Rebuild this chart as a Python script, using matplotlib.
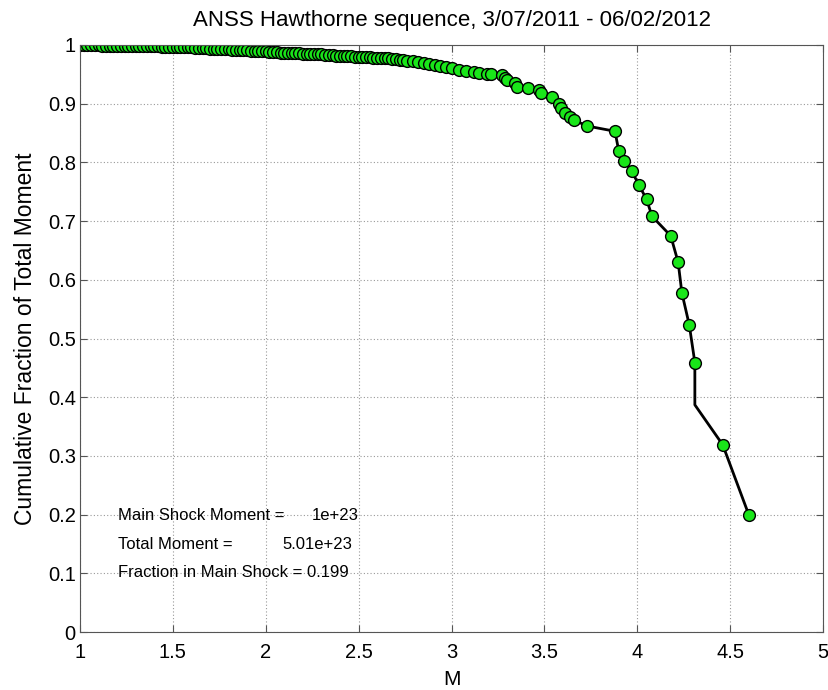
import matplotlib
matplotlib.use("Agg")
import matplotlib.pyplot as plt
import numpy as np

plt.rcParams['font.family'] = ['Liberation Sans', 'DejaVu Sans']

# magnitude and cumulative fraction of total moment
mag = [1.00, 1.02, 1.04, 1.06, 1.08, 1.10, 1.12, 1.14, 1.16, 1.18,
       1.20, 1.22, 1.24, 1.26, 1.28, 1.30, 1.32, 1.34, 1.36, 1.38,
       1.40, 1.42, 1.44, 1.46, 1.48, 1.50, 1.52, 1.54, 1.56, 1.58,
       1.60, 1.62, 1.64, 1.66, 1.68, 1.70, 1.72, 1.74, 1.76, 1.78,
       1.80, 1.82, 1.84, 1.86, 1.88, 1.90, 1.92, 1.94, 1.96, 1.98,
       2.00, 2.02, 2.04, 2.06, 2.08, 2.10, 2.12, 2.14, 2.16, 2.18,
       2.20, 2.22, 2.24, 2.26, 2.28, 2.30, 2.32, 2.34, 2.36, 2.38,
       2.40, 2.42, 2.44, 2.46, 2.48, 2.50, 2.52, 2.54, 2.56, 2.58,
       2.60, 2.62, 2.64, 2.66, 2.68, 2.70, 2.72, 2.74, 2.76, 2.79,
       2.82, 2.85, 2.88, 2.91, 2.94, 2.97, 3.00, 3.04, 3.08, 3.12,
       3.15, 3.19, 3.21, 3.27, 3.29, 3.30, 3.34, 3.35, 3.41, 3.47,
       3.48, 3.54, 3.58, 3.59, 3.61, 3.64, 3.66, 3.73, 3.88, 3.90,
       3.93, 3.97, 4.01, 4.05, 4.08, 4.18, 4.22, 4.24, 4.28, 4.31,
       4.31, 4.46, 4.60]
frac = [1.000, 1.000, 1.000, 1.000, 1.000, 1.000, 0.999, 0.999, 0.999, 0.999,
        0.999, 0.999, 0.999, 0.999, 0.999, 0.999, 0.998, 0.998, 0.998, 0.998,
        0.998, 0.998, 0.997, 0.997, 0.997, 0.997, 0.997, 0.996, 0.996, 0.996,
        0.996, 0.995, 0.995, 0.995, 0.995, 0.994, 0.994, 0.994, 0.993, 0.993,
        0.993, 0.992, 0.992, 0.991, 0.991, 0.991, 0.990, 0.990, 0.989, 0.989,
        0.989, 0.988, 0.988, 0.988, 0.987, 0.987, 0.987, 0.986, 0.986, 0.986,
        0.985, 0.985, 0.985, 0.984, 0.984, 0.984, 0.983, 0.983, 0.983, 0.982,
        0.982, 0.981, 0.981, 0.981, 0.980, 0.980, 0.980, 0.979, 0.979, 0.978,
        0.978, 0.977, 0.977, 0.977, 0.976, 0.976, 0.975, 0.974, 0.973, 0.972,
        0.971, 0.969, 0.968, 0.966, 0.965, 0.963, 0.961, 0.958, 0.956, 0.954,
        0.952, 0.950, 0.950, 0.949, 0.944, 0.940, 0.935, 0.929, 0.926, 0.923,
        0.918, 0.912, 0.900, 0.893, 0.884, 0.878, 0.872, 0.862, 0.853, 0.820,
        0.803, 0.785, 0.761, 0.737, 0.708, 0.675, 0.630, 0.578, 0.523, 0.459,
        0.387, 0.319, 0.200]
no_marker = [len(mag) - 3]  # line vertex drawn without a symbol

main_moment = "1e+23"
total_moment = "5.01e+23"
main_fraction = "0.199"

fig = plt.figure(figsize=(8.29, 6.9), dpi=100)
ax = fig.add_axes([0.0965, 0.084, 0.8963, 0.8508])

marks = [i for i in range(len(mag)) if i not in no_marker]
ax.plot(mag, frac, color="black", lw=2.0, marker="o", markevery=marks,
        markersize=8.5, markerfacecolor="#19e619", markeredgecolor="black",
        markeredgewidth=1.0)

ax.set_xlim(1, 5)
ax.set_ylim(0, 1)
ax.set_xticks(np.arange(1, 5.01, 0.5))
ax.set_xticklabels(["1", "1.5", "2", "2.5", "3", "3.5", "4", "4.5", "5"])
ax.set_yticks(np.arange(0, 1.01, 0.1))
ax.set_yticklabels(["0", "0.1", "0.2", "0.3", "0.4", "0.5", "0.6", "0.7",
                    "0.8", "0.9", "1"])
ax.grid(True, linestyle=(0, (1, 2)), color="#999999", lw=0.8)
ax.tick_params(direction="in", top=True, right=True, labelsize=14.5,
               length=5, color="#555555")
ax.tick_params(axis="x", pad=8)
ax.tick_params(axis="y", pad=3)
for sp in ax.spines.values():
    sp.set_color("#555555")

ax.set_xlabel("M", fontsize=15, labelpad=6)
ax.set_ylabel("Cumulative Fraction of Total Moment", fontsize=16.5, labelpad=8)
ax.set_title("ANSS Hawthorne sequence, 3/07/2011 - 06/02/2012", fontsize=16, pad=14)

ax.text(1.205, 0.198, "Main Shock Moment =", fontsize=12, va="center")
ax.text(2.25, 0.198, main_moment, fontsize=12, va="center")
ax.text(1.205, 0.149, "Total Moment =", fontsize=12, va="center")
ax.text(2.09, 0.149, total_moment, fontsize=12, va="center")
ax.text(1.205, 0.102, "Fraction in Main Shock = " + main_fraction,
        fontsize=12, va="center")

fig.savefig("out.png", dpi=100)
